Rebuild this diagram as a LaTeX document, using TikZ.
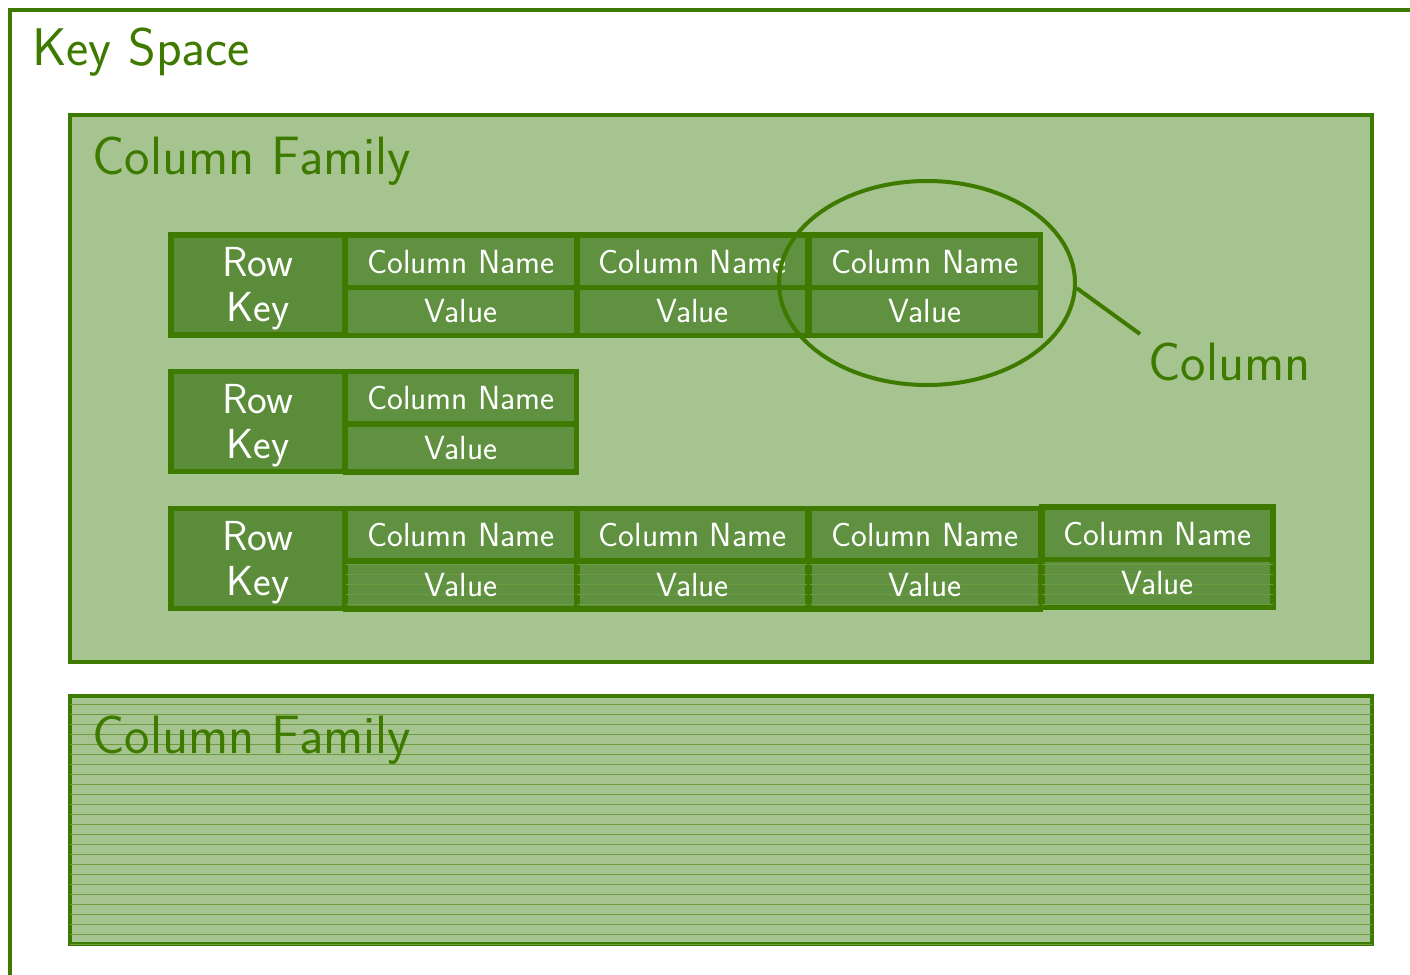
\documentclass[tikz,border=0pt]{standalone}
\usetikzlibrary{patterns.meta,shapes.geometric}
\definecolor{kgreen}{HTML}{3F7A00}
\definecolor{famfill}{HTML}{A5C48F}
\definecolor{cellfill}{HTML}{5F9141}
\definecolor{keyfill}{HTML}{5A8C3A}
\begin{document}
\begin{tikzpicture}[x=1pt,y=-1pt,font=\sffamily,
  frame/.style={draw=kgreen,line width=4pt},
  family/.style={frame,fill=famfill},
  lined/.style={postaction={pattern={Lines[distance=10pt,angle=0,line width=0.8pt]},pattern color=kgreen!75}},
  cellbox/.style={draw=kgreen,line width=5.5pt,fill=cellfill,text=white,inner sep=0pt,
    minimum width=231pt,font=\sffamily\fontsize{33.5}{33.5}\selectfont},
  namecell/.style={cellbox,minimum height=53pt},
  valuecell/.style={cellbox,minimum height=48pt},
  rowkey/.style={draw=kgreen,line width=5.5pt,fill=keyfill,inner sep=0pt,
    minimum width=174pt,minimum height=100pt},
  keytext/.style={text=white,inner sep=0pt,align=center,
    font=\sffamily\fontsize{42}{45}\selectfont},
  title/.style={text=kgreen,anchor=base west,inner sep=0pt,
    font=\sffamily\fontsize{54}{54}\selectfont}]
\clip (0,0) rectangle (1410,974);
\useasboundingbox (0,0) rectangle (1410,974);

% key space frame (runs off the right and bottom edges)
\draw[frame] (10,10) rectangle (1440,1000);
\node[title,font=\sffamily\fontsize{53}{53}\selectfont] (ks) at (32,66) {Key Space};

% first column family
\node[family,inner sep=0pt,minimum width=1302pt,minimum height=547pt] (cf1) at (721,388.5) {};
\node[title] (cf1t) at (92,174) {Column Family};

% row 1
\node[rowkey] (rk1) at (258,285) {};
\node[keytext] (rk1t) at ([yshift=-4pt]rk1.center) {Row\\Key};
\node[namecell]  (n11) at (461,261.5) {Column Name};
\node[valuecell] (v11) at (461,311.5) {Value};
\node[namecell]  (n12) at (692.5,261.5) {Column Name};
\node[valuecell] (v12) at (692.5,311.5) {Value};
\node[namecell]  (n13) at (925,261.5) {Column Name};
\node[valuecell] (v13) at (925,311.5) {Value};

% row 2
\node[rowkey] (rk2) at (258,421.5) {};
\node[keytext] (rk2t) at ([yshift=-4pt]rk2.center) {Row\\Key};
\node[namecell]  (n21) at (461,398) {Column Name};
\node[valuecell] (v21) at (461,448) {Value};

% row 3
\node[rowkey] (rk3) at (258,558.5) {};
\node[keytext] (rk3t) at ([yshift=-4pt]rk3.center) {Row\\Key};
\node[namecell]  (n31) at (461,535) {Column Name};
\node[valuecell,lined] (v31) at (461,585) {Value};
\node[namecell]  (n32) at (692.5,535) {Column Name};
\node[valuecell,lined] (v32) at (692.5,585) {Value};
\node[namecell]  (n33) at (925,535) {Column Name};
\node[valuecell,lined] (v33) at (925,585) {Value};
\node[namecell]  (n34) at (1157.5,533.5) {Column Name};
\node[valuecell,lined] (v34) at (1157.5,583.5) {Value};

% column callout
\node[draw=kgreen,line width=4pt,ellipse,minimum width=296pt,minimum height=204pt] (col) at (927,283) {};
\coordinate (tick) at (1140,334);
\draw[kgreen,line width=4pt] (col.-2) -- (tick);
\node[title] (colt) at (1148,380) {Column};

% second column family
\node[family,lined,inner sep=0pt,minimum width=1302pt,minimum height=248pt] (cf2) at (721,820) {};
\node[title] (cf2t) at (92,753) {Column Family};
\end{tikzpicture}
\end{document}
